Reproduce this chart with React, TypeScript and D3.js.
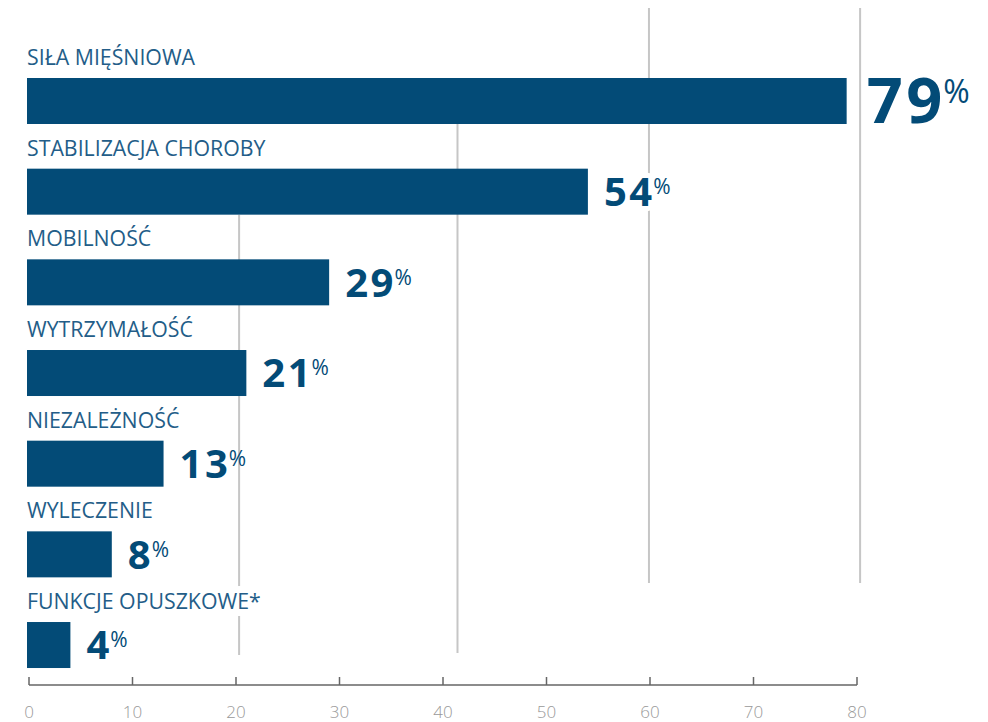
import React, { useEffect, useRef } from "react";
import * as d3 from "d3";

const categories = [
  "SIŁA MIĘŚNIOWA",
  "STABILIZACJA CHOROBY",
  "MOBILNOŚĆ",
  "WYTRZYMAŁOŚĆ",
  "NIEZALEŻNOŚĆ",
  "WYLECZENIE",
  "FUNKCJE OPUSZKOWE*",
];
const values = [79, 54, 29, 21, 13, 8, 4];
const tickValues = [0, 10, 20, 30, 40, 50, 60, 70, 80];
const gridValues = [20.3, 41.4, 59.9, 80.3];

const W = 988;
const H = 722;
const BAR = "#034b77";
const LABEL = "#235d88";

export default function App() {
  const ref = useRef<SVGSVGElement | null>(null);

  useEffect(() => {
    const svg = d3.select(ref.current);
    svg.selectAll("*").remove();

    const x = d3.scaleLinear().domain([0, 80]).range([29, 857]);
    const y = d3
      .scaleBand<string>()
      .domain(categories)
      .range([33, 33 + 90.67 * categories.length])
      .padding(0);
    const barOffset = 45;
    const barH = 46;

    const barTop = (i: number) => (y(categories[i]) as number) + barOffset;

    // gridlines (decorative, behind)
    const gridTop = [barTop(1) + barH, barTop(0) + barH, 8, 8];
    const gridBottom = [655, 653, 583, 583];
    svg
      .append("g")
      .selectAll("line")
      .data(gridValues)
      .join("line")
      .attr("x1", (d) => x(d))
      .attr("x2", (d) => x(d))
      .attr("y1", (_d, i) => gridTop[i])
      .attr("y2", (_d, i) => gridBottom[i])
      .attr("stroke", "#c6c6c6")
      .attr("stroke-width", 2);

    // category labels
    svg
      .append("g")
      .selectAll("text")
      .data(categories)
      .join("text")
      .attr("x", 27)
      .attr("y", (d) => (y(d) as number) + 32)
      .attr("font-family", "'Open Sans', sans-serif")
      .attr("font-size", 21.3)
      .attr("fill", LABEL)
      .attr("stroke", "#fff")
      .attr("stroke-width", 14)
      .attr("stroke-linejoin", "round")
      .attr("paint-order", "stroke")
      .text((d) => d);

    // bars
    svg
      .append("g")
      .selectAll("rect")
      .data(values)
      .join("rect")
      .attr("x", 27)
      .attr("y", (_d, i) => barTop(i))
      .attr("width", (d) => x(d) - 27)
      .attr("height", barH)
      .attr("fill", BAR);

    // value labels
    const numFs = (i: number) => (i === 0 ? 63 : 40);
    const ls = (i: number) => (i === 0 ? 3.5 : 2.5);
    const baseY = (i: number) => barTop(i) + barH / 2 + 0.357 * numFs(i);
    const numX = (d: number, i: number) => x(d) + (i === 0 ? 20 : 16);

    const vg = svg.append("g");
    const nums = vg
      .selectAll("text.num")
      .data(values)
      .join("text")
      .attr("class", "num")
      .attr("x", (d, i) => numX(d, i))
      .attr("y", (_d, i) => baseY(i))
      .attr("font-family", "'Open Sans', sans-serif")
      .attr("font-weight", 700)
      .attr("font-size", (_d, i) => numFs(i))
      .attr("letter-spacing", (_d, i) => ls(i))
      .attr("fill", BAR)
      .attr("stroke", "#fff")
      .attr("stroke-width", 10)
      .attr("stroke-linejoin", "round")
      .attr("paint-order", "stroke")
      .text((d) => String(d));

    const widths: number[] = [];
    nums.each(function (_d, i) {
      widths[i] = (this as SVGTextElement).getComputedTextLength();
    });

    vg.selectAll("text.pct")
      .data(values)
      .join("text")
      .attr("class", "pct")
      .attr("x", (d, i) => numX(d, i) + widths[i] - ls(i) + 1)
      .attr("y", (_d, i) => baseY(i) - (i === 0 ? 20 : 12))
      .attr("font-family", "'Open Sans', sans-serif")
      .attr("font-size", (_d, i) => (i === 0 ? 32 : 21))
      .attr("fill", BAR)
      .text("%");

    // axis
    const axisY = 685;
    const ax = svg.append("g");
    ax.append("line")
      .attr("x1", x(0))
      .attr("x2", x(80))
      .attr("y1", axisY)
      .attr("y2", axisY)
      .attr("stroke", "#666")
      .attr("stroke-width", 1.5);
    ax.selectAll("line.tick")
      .data(tickValues)
      .join("line")
      .attr("class", "tick")
      .attr("x1", (d) => x(d))
      .attr("x2", (d) => x(d))
      .attr("y1", axisY - 8)
      .attr("y2", axisY)
      .attr("stroke", "#666")
      .attr("stroke-width", 1.5);
    ax.selectAll("text")
      .data(tickValues)
      .join("text")
      .attr("x", (d) => x(d))
      .attr("y", 718)
      .attr("text-anchor", "middle")
      .attr("font-family", "'Open Sans', sans-serif")
      .attr("font-weight", 300)
      .attr("font-size", 17)
      .attr("fill", "#999")
      .text((d) => String(d));
  }, []);

  return (
    <svg
      ref={ref}
      width={W}
      height={H}
      style={{ position: "absolute", left: 0, top: 0, background: "#fff" }}
    />
  );
}
